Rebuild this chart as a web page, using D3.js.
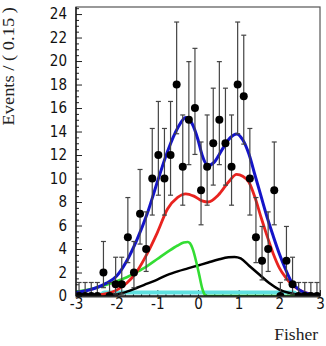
<!DOCTYPE html>
<html>
  <head>
    <script src="https://d3js.org/d3.v7.min.js"></script>
    <style>
      body { margin: 0; background-color: #fff; }
    </style>
  </head>
  <body>
    <svg id="canvas" width="326" height="346"></svg>
  </body>

  <script>
    // data histogram, 40 bins of 0.15 from -3 to 3
    const binLow = -3
    const binWidth = 0.15
    const counts = [0,0,0,0,2,0,1,1,5,2,7,4,10,12,10,12,18,11,15,16,9,11,13,15,13,11,18,17,10,5,3,4,9,0,3,1,0,0,0,0]
    // asymmetric poisson errors as drawn
    const errHi = [1.15,1.15,1.15,1.15,2.64,1.15,2.30,2.30,3.38,2.64,3.77,3.16,4.26,4.56,4.26,4.56,5.32,4.41,4.95,5.08,4.11,4.41,4.69,4.95,4.69,4.41,5.32,5.20,4.26,3.38,2.92,3.16,4.11,1.15,2.92,2.30,1.15,1.15,1.15,1.15]
    const errLo = [0,0,0,0,1.29,0,0.83,0.83,2.16,1.29,2.58,1.91,3.11,3.42,3.11,3.42,4.19,3.27,3.82,3.95,2.94,3.27,3.56,3.82,3.56,3.27,4.19,4.07,3.11,2.16,1.63,1.91,2.94,0,1.63,0.83,0,0,0,0]

    // fit curves
    const blueX = [-3,-2.75,-2.5,-2.25,-2,-1.75,-1.5,-1.25,-1,-0.75,-0.5,-0.3,-0.15,0,0.1,0.25,0.4,0.6,0.8,0.95,1.1,1.25,1.4,1.55,1.7,1.85,2,2.15,2.3,2.5,2.75,3]
    const blueY = [0.3,0.45,0.7,1.1,1.7,3.0,4.8,7.0,9.7,12.3,14.3,15.2,14.7,13.3,12.0,11.1,11.4,12.5,13.5,13.8,13.3,12.1,10.3,8.5,6.7,5.1,3.6,2.3,1.2,0.5,0.15,0.05]

    const redX = [-3,-2.5,-2.25,-2,-1.75,-1.5,-1.25,-1,-0.75,-0.5,-0.3,-0.1,0.1,0.25,0.5,0.75,0.95,1.1,1.25,1.4,1.55,1.7,1.85,2,2.15,2.3,2.5,2.75,3]
    const redY = [0.02,0.08,0.2,0.5,1.1,2.1,3.6,5.4,7.4,8.4,8.7,8.5,8.1,8.0,8.6,9.7,10.35,10.2,9.7,8.4,6.7,5.1,3.6,2.4,1.6,1.0,0.5,0.18,0.06]

    const greenX = [-3,-2.75,-2.5,-2.25,-2,-1.75,-1.5,-1.25,-1,-0.75,-0.5,-0.35,-0.25,-0.2,-0.12,-0.05,0.03,0.1,0.17,0.22,3]
    const greenY = [0.35,0.5,0.7,0.95,1.25,1.6,2.05,2.55,3.15,3.75,4.3,4.55,4.6,4.5,3.9,3.0,1.8,0.7,0.1,0,0]

    const blackX = [-3,-2.5,-2,-1.75,-1.5,-1.25,-1,-0.75,-0.5,-0.25,0,0.25,0.5,0.75,0.9,1.05,1.25,1.5,1.75,2,2.25,2.5,2.75,3]
    const blackY = [0,0.05,0.15,0.37,0.7,1.05,1.4,1.8,2.1,2.35,2.6,2.85,3.1,3.3,3.33,3.2,2.6,1.85,1.1,0.55,0.25,0.08,0.02,0]

    const cyanX = [-3,-2.45,-2.3,2.35,2.5,3]
    const cyanY = [0,0,0.3,0.3,0,0]

    const yMajor = [0,2,4,6,8,10,12,14,16,18,20,22,24]
    const xMajor = [-3,-2,-1,0,1,2,3]

    const svg = d3.select('#canvas')

    const x = d3.scaleLinear().domain([-3, 3]).range([76, 320])
    const y = d3.scaleLinear().domain([0, 24.6]).range([296, 7])

    const tickFont = '"DejaVu Sans Condensed", "DejaVu Sans", sans-serif'
    const titleFont = '"Liberation Serif", "DejaVu Serif", serif'

    svg.append('clipPath').attr('id', 'frameClip')
      .append('rect')
      .attr('x', x(-3)).attr('y', y(24.6))
      .attr('width', x(3) - x(-3)).attr('height', y(0) - y(24.6))

    // frame
    svg.append('rect')
      .attr('x', x(-3)).attr('y', y(24.6))
      .attr('width', x(3) - x(-3)).attr('height', y(0) - y(24.6) + 1)
      .attr('fill', 'none').attr('stroke', '#555').attr('stroke-width', 1.2)

    // minor ticks
    const yMinor = d3.range(0, 24.51, 0.5).filter(v => v % 2 !== 0)
    const xMinor = d3.range(-3, 3.001, 0.2).filter(v => Math.abs(v - Math.round(v)) > 0.01)

    const yAxis = svg.append('g').attr('transform', `translate(${x(-3)},0)`)
      .call(d3.axisLeft(y).tickValues(yMajor).tickSize(-6).tickPadding(9).tickFormat(d3.format('d')))
    yAxis.select('.domain').remove()
    yAxis.selectAll('text').attr('font-family', tickFont).attr('font-size', 15).attr('fill', '#111')
    yAxis.selectAll('line').attr('stroke', '#222')
    svg.append('g').attr('transform', `translate(${x(-3)},0)`)
      .call(d3.axisLeft(y).tickValues(yMinor).tickSize(-3).tickFormat(''))
      .call(g => g.select('.domain').remove())
      .selectAll('line').attr('stroke', '#222')

    const xAxis = svg.append('g').attr('transform', `translate(0,${y(0)})`)
      .call(d3.axisBottom(x).tickValues(xMajor).tickSize(-6).tickPadding(2).tickFormat(d => d < 0 ? '-' + Math.abs(d) : d))
    xAxis.select('.domain').remove()
    xAxis.selectAll('text').attr('font-family', tickFont).attr('font-size', 15).attr('fill', '#111')
    xAxis.selectAll('line').attr('stroke', '#222')
    svg.append('g').attr('transform', `translate(0,${y(0)})`)
      .call(d3.axisBottom(x).tickValues(xMinor).tickSize(-3).tickFormat(''))
      .call(g => g.select('.domain').remove())
      .selectAll('line').attr('stroke', '#222')

    // titles
    svg.append('text')
      .attr('transform', 'translate(14,7) scale(0.85,1) rotate(-90)')
      .attr('text-anchor', 'end')
      .attr('font-family', titleFont).attr('font-size', 18.5)
      .attr('fill', '#222')
      .text('Events / ( 0.15 )')
    svg.append('text')
      .attr('x', 318).attr('y', 340)
      .attr('text-anchor', 'end')
      .attr('font-family', titleFont).attr('font-size', 17.5)
      .attr('fill', '#222')
      .text('Fisher')

    // curves
    const plot = svg.append('g').attr('clip-path', 'url(#frameClip)')
    const line = d3.line().x(d => x(d[0])).y(d => y(d[1])).curve(d3.curveMonotoneX)
    const curves = [
      { xs: cyanX, ys: cyanY, color: '#5fe0e0', width: 4 },
      { xs: blackX, ys: blackY, color: '#000', width: 2.5 },
      { xs: greenX, ys: greenY, color: '#33dd33', width: 2.6 },
      { xs: redX, ys: redY, color: '#e8231f', width: 2.8 },
      { xs: blueX, ys: blueY, color: '#1414c8', width: 3 }
    ]
    curves.forEach(c => {
      plot.append('path')
        .datum(c.xs.map((v, i) => [v, c.ys[i]]))
        .attr('d', line)
        .attr('fill', 'none')
        .attr('stroke', c.color)
        .attr('stroke-width', c.width)
        .attr('stroke-linejoin', 'round')
    })

    // data points with error bars
    const bins = counts.map((n, i) => ({ xc: binLow + binWidth * (i + 0.5), n, hi: errHi[i], lo: errLo[i] }))
    const dataLayer = plot.append('g')
    const hat = 2.5
    bins.forEach(b => {
      const cx = x(b.xc)
      dataLayer.append('line').attr('x1', cx).attr('x2', cx)
        .attr('y1', y(b.n - b.lo)).attr('y2', y(b.n + b.hi))
        .attr('stroke', '#444').attr('stroke-width', 1.2)
      dataLayer.append('line').attr('x1', cx - hat).attr('x2', cx + hat)
        .attr('y1', y(b.n + b.hi)).attr('y2', y(b.n + b.hi))
        .attr('stroke', '#444').attr('stroke-width', 1.2)
      if (b.lo > 0) {
        dataLayer.append('line').attr('x1', cx - hat).attr('x2', cx + hat)
          .attr('y1', y(b.n - b.lo)).attr('y2', y(b.n - b.lo))
          .attr('stroke', '#444').attr('stroke-width', 1.2)
      }
      dataLayer.append('circle').attr('cx', cx).attr('cy', y(b.n)).attr('r', 4).attr('fill', '#000')
    })

    // axis lines on top
    svg.append('line').attr('x1', x(-3)).attr('x2', x(-3)).attr('y1', y(24.6)).attr('y2', y(0))
      .attr('stroke', '#111').attr('stroke-width', 1.3)
    svg.append('line').attr('x1', x(-3)).attr('x2', x(3)).attr('y1', y(0)).attr('y2', y(0))
      .attr('stroke', '#111').attr('stroke-width', 1.3)
  </script>
</html>
